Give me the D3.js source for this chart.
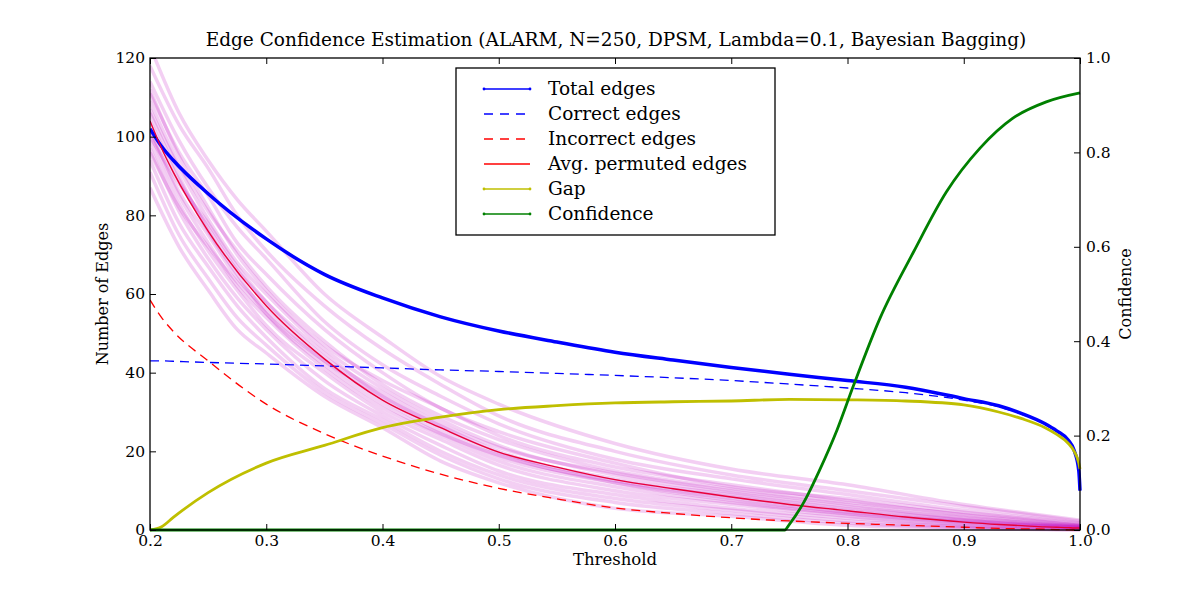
<!DOCTYPE html>
<html>
<head>
<meta charset="utf-8">
<script src="https://cdn.jsdelivr.net/npm/d3@7"></script>
<style>
  html, body { margin: 0; padding: 0; background: #fff; }
  svg { display: block; font-family: "DejaVu Serif", serif; }
</style>
</head>
<body>
<svg id="chart" width="1200" height="589"></svg>
<script>
// ---------------- data ----------------
const thresholds = [0.20,0.21,0.22,0.25,0.30,0.35,0.40,0.45,0.50,0.55,0.60,0.65,0.70,0.75,0.80,0.85,0.90,0.93,0.95,0.97,0.98,0.99,0.995,0.999,1.0];
const totalEdges = [102,97.5,94,85.5,74,65,59,54.2,50.6,47.8,45.2,43.2,41.3,39.6,38.0,36.3,33.4,31.6,29.6,27,25.2,22.8,20.2,15,10];
const correctEdges = [43,43,42.9,42.6,42.2,41.7,41.2,40.7,40.3,39.8,39.3,38.7,38.0,37.1,36.1,34.9,33.0,31.3,29.4,26.8,25.0,22.7,20.1,15,10];
const incorrectEdges = [58.5,54,50.5,43,32,24.5,18.8,14.2,10.6,7.9,5.6,4.2,3.1,2.3,1.7,1.2,0.7,0.4,0.3,0.2,0.1,0.05,0,0,0];
const avgPermuted = [104,97,91,76,57,43.5,33,26,19.8,16,12.8,10.5,8.4,6.5,4.9,3.3,2.0,1.4,1.1,0.8,0.7,0.6,0.5,0.5,0.5];
const gapValues = [0,0.8,3.2,9.5,17,21.5,26,28.7,30.6,31.6,32.3,32.6,32.8,33.2,33.1,32.8,31.8,30.0,28.3,26.0,24.3,22.0,20.0,17.0,15.5];

const confThresholds = [0.2,0.746,0.75,0.762,0.776,0.791,0.805,0.828,0.857,0.885,0.914,0.942,0.971,1.0];
const confidence = [0,0,0.012,0.057,0.127,0.212,0.305,0.449,0.59,0.716,0.809,0.872,0.907,0.926];

// individual permutation runs (faint magenta)
const permThresholds = [0.2,0.225,0.25,0.275,0.3,0.35,0.4,0.45,0.5,0.6,0.7,0.8,0.9,1.0];
const permRuns = [
  [123,106,94,84,76,60,49,39,32,22,15.5,11.5,6.5,2.5],
  [118,103,92,80,71,57,46,37,29,20,14,10,6,2.2],
  [114,99,87,77,69,53,42,34,27,18,13,9,5,1.8],
  [111,96,85,73,65,51,40,31,25,17,11,8,4.5,1.5],
  [109,93,81,71,62,48,37,29,23,15,10.5,7,4,1.3],
  [107,92,79,68,60,46,36,28,21.5,14,9.5,6,3.2,1],
  [104,89,77,66,58,45,34,26.5,20,13,9,5.5,2.6,0.9],
  [102,86,75,64,56,43,33,25,18.5,12,8,4.5,2.2,0.7],
  [101,85,73,62,54,41,31,24,17.5,11,7,4,1.8,0.6],
  [99,83,71,61,52,40,30,23,16.5,10,6.5,3.5,1.4,0.5],
  [97,81,69,59,51,38,29,21.5,15,9,5.5,3,1.1,0.3],
  [94,78,67,57,49,36,28,20,14,8,5,2.3,0.9,0.2],
  [91,75,64,54,47,35,27,19,13,7,4.2,1.8,0.6,0.1],
  [87,72,61,51,45,34,26,17.5,12,5.5,3.5,1.2,0.4,0],
  [112,95,82,70,61,47,38,31,24,16,11.5,7.5,3.8,1.2],
  [100,88,78,67,58,44,35,27,21,14.5,10,6.5,3,1],
  [106,90,76,65,55,42,32,24.5,19,12.5,8.5,5,2.4,0.8],
  [96,82,72,63,55,43,34,26,19.5,12,7.5,4.2,2,0.6]
];

const xTicks = [0.2,0.3,0.4,0.5,0.6,0.7,0.8,0.9,1.0];
const yLeftTicks = [0,20,40,60,80,100,120];
const yRightTicks = [0,0.2,0.4,0.6,0.8,1.0];

const titleText = "Edge Confidence Estimation (ALARM, N=250, DPSM, Lambda=0.1, Bayesian Bagging)";
const legendLabels = ["Total edges","Correct edges","Incorrect edges","Avg. permuted edges","Gap","Confidence"];

// ---------------- chart ----------------
const L = 150, R = 1080, T = 58, B = 530;
const svg = d3.select("#chart");
svg.append("rect").attr("width",1200).attr("height",589).attr("fill","#fff");

const x = d3.scaleLinear().domain([0.2,1.0]).range([L,R]);
const yL = d3.scaleLinear().domain([0,120]).range([B,T]);
const yR = d3.scaleLinear().domain([0,1]).range([B,T]);

svg.append("defs").append("clipPath").attr("id","clip")
  .append("rect").attr("x",L).attr("y",T).attr("width",R-L+2).attr("height",B-T+2);

const plot = svg.append("g").attr("clip-path","url(#clip)");

const lineL = (xs) => d3.line().x((d,i)=>x(xs[i])).y(d=>yL(d)).curve(d3.curveMonotoneX);
const lineR = (xs) => d3.line().x((d,i)=>x(xs[i])).y(d=>yR(d)).curve(d3.curveMonotoneX);

// permutation runs
plot.selectAll("path.perm").data(permRuns).enter().append("path")
  .attr("class","perm")
  .attr("d", d => lineL(permThresholds)(d))
  .attr("fill","none").attr("stroke","#bf00bf").attr("stroke-opacity",0.19)
  .attr("stroke-width",3.5);

// main series
const series = [
  {v: totalEdges, color:"#0000ff", w:3.5, dash:null},
  {v: correctEdges, color:"#0000ff", w:1.3, dash:"9,6"},
  {v: incorrectEdges, color:"#ff0000", w:1.3, dash:"9,6"},
  {v: avgPermuted, color:"#e8003a", w:1.4, dash:null},
  {v: gapValues, color:"#bfbf00", w:2.8, dash:null}
];
series.forEach(s => {
  plot.append("path").attr("d", lineL(thresholds)(s.v))
    .attr("fill","none").attr("stroke",s.color).attr("stroke-width",s.w)
    .attr("stroke-dasharray", s.dash).attr("stroke-linejoin","round");
});

// frame
svg.append("rect").attr("x",L).attr("y",T).attr("width",R-L).attr("height",B-T)
  .attr("fill","none").attr("stroke","#000").attr("stroke-width",1.3);

// axes
const fs = "15.5px";
const gx = svg.append("g").attr("transform",`translate(0,${B})`)
  .call(d3.axisBottom(x).tickValues(xTicks).tickFormat(d3.format(".1f")).tickSizeInner(-6).tickSizeOuter(0).tickPadding(5));
const gxTop = svg.append("g").attr("transform",`translate(0,${T})`)
  .call(d3.axisTop(x).tickValues(xTicks).tickFormat("").tickSizeInner(-6).tickSizeOuter(0));
const gyL = svg.append("g").attr("transform",`translate(${L},0)`)
  .call(d3.axisLeft(yL).tickValues(yLeftTicks).tickFormat(d3.format("d")).tickSizeInner(-6).tickSizeOuter(0).tickPadding(5));
const gyR = svg.append("g").attr("transform",`translate(${R},0)`)
  .call(d3.axisRight(yR).tickValues(yRightTicks).tickFormat(d3.format(".1f")).tickSizeInner(-6).tickSizeOuter(0).tickPadding(6));
[gx,gxTop,gyL,gyR].forEach(g => {
  g.select(".domain").remove();
  g.selectAll("line").attr("stroke","#000").attr("stroke-width",1);
  g.selectAll("text").attr("font-family","DejaVu Serif, serif").attr("font-size",fs).attr("fill","#000");
});

// confidence on top
plot.append("path").attr("d", lineR(confThresholds)(confidence))
  .attr("fill","none").attr("stroke","#008000").attr("stroke-width",2.8).attr("stroke-linejoin","round");

// titles
svg.append("text").attr("x",616).attr("y",46).attr("text-anchor","middle")
  .attr("font-size","18.5px").attr("fill","#000").text(titleText);
svg.append("text").attr("x",(L+R)/2).attr("y",565).attr("text-anchor","middle")
  .attr("font-size","16.5px").attr("fill","#000").text("Threshold");
svg.append("text").attr("transform",`translate(108,${(T+B)/2}) rotate(-90)`).attr("text-anchor","middle")
  .attr("font-size","16px").attr("fill","#000").text("Number of Edges");
svg.append("text").attr("transform",`translate(1131,${(T+B)/2}) rotate(-90)`).attr("text-anchor","middle")
  .attr("font-size","16px").attr("fill","#000").text("Confidence");

// legend
const lg = svg.append("g");
lg.append("rect").attr("x",456).attr("y",68).attr("width",319).attr("height",167)
  .attr("fill","#fff").attr("stroke","#000").attr("stroke-width",1.3);
const legendStyles = [
  {color:"#0000ff", dash:null, w:1.5, dots:true},
  {color:"#0000ff", dash:"9,7", w:1.3, dots:false},
  {color:"#ff0000", dash:"9,7", w:1.3, dots:false},
  {color:"#ff0000", dash:null, w:1.3, dots:false},
  {color:"#bfbf00", dash:null, w:1.5, dots:true},
  {color:"#008000", dash:null, w:1.5, dots:true}
];
legendLabels.forEach((lab,i) => {
  const yy = 89 + i*25;
  const st = legendStyles[i];
  lg.append("line").attr("x1",484).attr("x2",530).attr("y1",yy).attr("y2",yy)
    .attr("stroke",st.color).attr("stroke-width",st.w).attr("stroke-dasharray",st.dash);
  if (st.dots) {
    [484,530].forEach(cx => lg.append("circle").attr("cx",cx).attr("cy",yy).attr("r",1.4).attr("fill",st.color));
  }
  lg.append("text").attr("x",548).attr("y",yy+6).attr("font-size","18.5px").attr("fill","#000").text(lab);
});
</script>
</body>
</html>
